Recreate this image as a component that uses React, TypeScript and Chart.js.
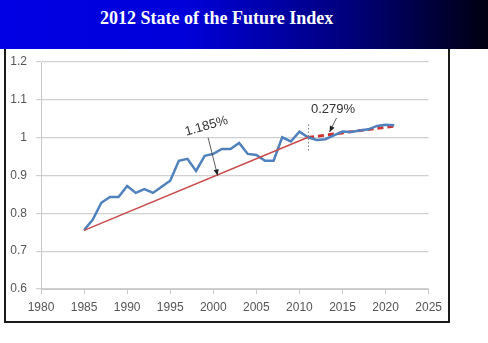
import React, { useEffect, useRef } from "react";
import { Chart, registerables } from "chart.js";

Chart.register(...registerables);

const title = "2012 State of the Future Index";

const years = [
  1985, 1986, 1987, 1988, 1989, 1990, 1991, 1992, 1993, 1994, 1995, 1996, 1997,
  1998, 1999, 2000, 2001, 2002, 2003, 2004, 2005, 2006, 2007, 2008, 2009, 2010,
  2011, 2012, 2013, 2014, 2015, 2016, 2017, 2018, 2019, 2020, 2021,
];
const sofi = [
  0.756, 0.783, 0.828, 0.843, 0.843, 0.872, 0.854, 0.864, 0.854, 0.87, 0.886,
  0.939, 0.944, 0.912, 0.952, 0.957, 0.97, 0.97, 0.986, 0.957, 0.954, 0.939,
  0.939, 1.001, 0.99, 1.016, 1.001, 0.994, 0.996, 1.006, 1.016, 1.015, 1.019,
  1.022, 1.031, 1.034, 1.033,
];

const trendYears1 = [1985, 2011];
const trendValues1 = [0.755, 1.001];
const trendYears2 = [2011, 2021];
const trendValues2 = [1.001, 1.03];

const dividerYear = 2011;
const dividerRange = [0.963, 1.035];

const labels = ["1.185%", "0.279%"];
const labelPos = [
  [1999.2, 1.03],
  [2013.9, 1.074],
];
const arrowFrom = [
  [1999.4, 1.0],
  [2014.3, 1.052],
];
const arrowTo = [
  [2000.5, 0.9],
  [2013.5, 1.015],
];
const labelAngle = [-16, 0];

const toXY = (xs: number[], ys: number[]) => xs.map((x, i) => ({ x, y: ys[i] }));

const annotationPlugin = {
  id: "annots",
  afterDatasetsDraw(chart: any) {
    const { ctx, scales } = chart;
    const xs = scales.x;
    const ys = scales.y;
    ctx.save();
    ctx.strokeStyle = "#7a7a7a";
    ctx.lineWidth = 1;
    ctx.setLineDash([1.5, 2]);
    const dx = Math.round(xs.getPixelForValue(dividerYear)) + 0.5;
    ctx.beginPath();
    ctx.moveTo(dx, ys.getPixelForValue(dividerRange[1]));
    ctx.lineTo(dx, ys.getPixelForValue(dividerRange[0]));
    ctx.stroke();
    ctx.setLineDash([]);
    for (let i = 0; i < labels.length; i++) {
      const x1 = xs.getPixelForValue(arrowFrom[i][0]);
      const y1 = ys.getPixelForValue(arrowFrom[i][1]);
      const x2 = xs.getPixelForValue(arrowTo[i][0]);
      const y2 = ys.getPixelForValue(arrowTo[i][1]);
      ctx.strokeStyle = "#333";
      ctx.fillStyle = "#222";
      ctx.lineWidth = 0.8;
      ctx.beginPath();
      ctx.moveTo(x1, y1);
      ctx.lineTo(x2, y2);
      ctx.stroke();
      const ang = Math.atan2(y2 - y1, x2 - x1);
      const L = 6;
      const W = 2.6;
      ctx.beginPath();
      ctx.moveTo(x2, y2);
      ctx.lineTo(
        x2 - L * Math.cos(ang) + W * Math.sin(ang),
        y2 - L * Math.sin(ang) - W * Math.cos(ang)
      );
      ctx.lineTo(
        x2 - L * Math.cos(ang) - W * Math.sin(ang),
        y2 - L * Math.sin(ang) + W * Math.cos(ang)
      );
      ctx.closePath();
      ctx.fill();
      const lx = xs.getPixelForValue(labelPos[i][0]);
      const ly = ys.getPixelForValue(labelPos[i][1]);
      ctx.save();
      ctx.translate(lx, ly);
      ctx.rotate((labelAngle[i] * Math.PI) / 180);
      ctx.font = '13px "Liberation Sans", Arial, sans-serif';
      ctx.fillStyle = "#333";
      ctx.textAlign = "center";
      ctx.textBaseline = "middle";
      ctx.fillText(labels[i], 0, 0);
      ctx.restore();
    }
    ctx.restore();
  },
};

export default function App() {
  const ref = useRef<HTMLCanvasElement>(null);
  useEffect(() => {
    if (!ref.current) return;
    const chart = new Chart(ref.current, {
      type: "scatter",
      data: {
        datasets: [
          {
            data: toXY(trendYears1, trendValues1),
            showLine: true,
            borderColor: "#c84a4a",
            borderWidth: 1.5,
            pointRadius: 0,
          },
          {
            data: toXY(years, sofi),
            showLine: true,
            borderColor: "#4f81bd",
            borderWidth: 2.5,
            pointRadius: 0,
            tension: 0,
          },
          {
            data: toXY(trendYears2, trendValues2),
            showLine: true,
            borderColor: "#d0302e",
            borderWidth: 2.8,
            borderDash: [6, 4],
            pointRadius: 0,
          },
        ],
      },
      options: {
        animation: false,
        responsive: false,
        devicePixelRatio: 1,
        layout: { padding: { top: 20, right: 18, left: 0, bottom: 0 } },
        plugins: { legend: { display: false }, tooltip: { enabled: false } },
        scales: {
          x: {
            type: "linear",
            min: 1980,
            max: 2025,
            ticks: {
              stepSize: 5,
              color: "#555",
              font: { family: '"Liberation Sans", Arial, sans-serif', size: 12 },
              padding: 6,
              callback: (v: any) => String(v),
              maxRotation: 0,
            },
            grid: {
              drawOnChartArea: false,
              drawTicks: true,
              tickLength: 5,
              color: "#c8c8c8",
            },
            border: { color: "#c8c8c8", width: 1 },
            afterFit: (s: any) => {
              s.height = 32;
            },
          },
          y: {
            min: 0.6,
            max: 1.2,
            ticks: {
              stepSize: 0.1,
              color: "#555",
              font: { family: '"Liberation Sans", Arial, sans-serif', size: 12 },
              padding: 9,
              callback: (v: any) => String(Math.round(v * 10) / 10),
            },
            grid: { color: "#d0d0d0", tickLength: 5, lineWidth: 1.2 },
            border: { color: "#c8c8c8", width: 1 },
            afterFit: (s: any) => {
              s.width = 35;
            },
          },
        },
      },
      plugins: [annotationPlugin],
    });
    return () => chart.destroy();
  }, []);

  return (
    <div
      style={{
        position: "fixed",
        left: 0,
        top: 0,
        width: 488,
        height: 343,
        background: "#fff",
        overflow: "hidden",
      }}
    >
      <div
        style={{
          position: "absolute",
          left: 4,
          top: 40,
          width: 442,
          height: 279,
          border: "2px solid #1a1a1a",
          background: "#fff",
        }}
      >
        <canvas ref={ref} width={442} height={279} style={{ display: "block" }} />
      </div>
      <div
        style={{
          position: "absolute",
          left: 0,
          top: 0,
          width: 488,
          height: 49,
          background:
            "linear-gradient(to right, #0000e4 0%, #0000da 38%, #00007a 72%, #000010 100%)",
          zIndex: 2,
        }}
      >
        <div
          style={{
            position: "absolute",
            left: 100,
            top: 8,
            color: "#fff",
            fontFamily: '"Liberation Serif", "Times New Roman", serif',
            fontWeight: "bold",
            fontSize: 18,
            whiteSpace: "nowrap",
          }}
        >
          {title}
        </div>
      </div>
    </div>
  );
}
